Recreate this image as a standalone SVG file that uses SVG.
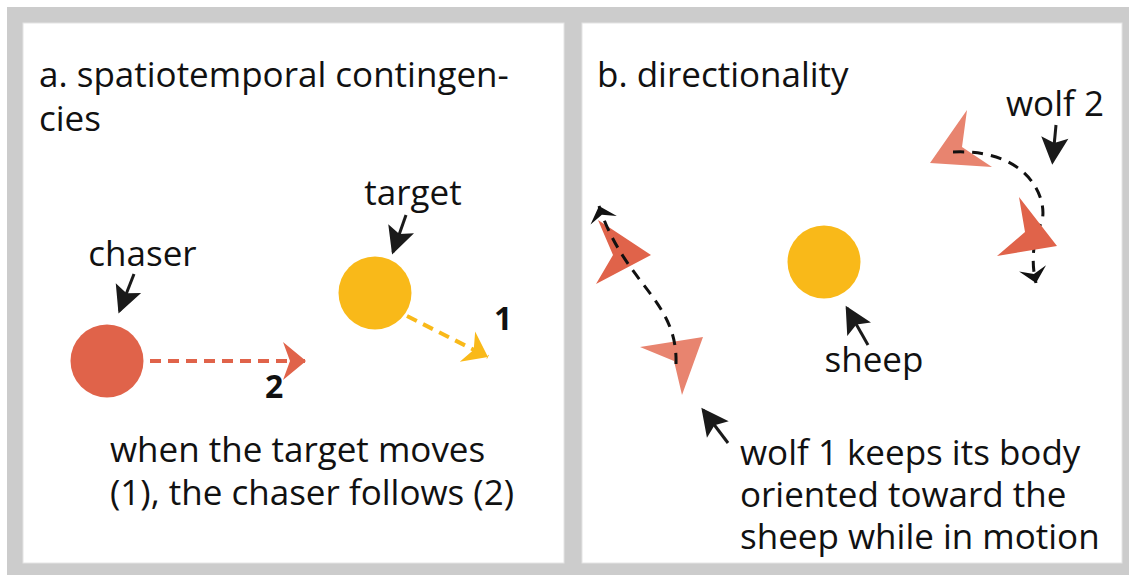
<svg xmlns="http://www.w3.org/2000/svg" width="1129" height="575" viewBox="0 0 1129 575">
<style>
text{font-family:"Open Sans","Noto Sans","Liberation Sans",sans-serif;font-size:35px;fill:#111;}
.num{font-weight:bold;font-size:32px;}
.lbl{stroke:#1a1a1a;stroke-width:3;fill:none;}
.dash-o{stroke:#e0634a;stroke-width:4;stroke-dasharray:11 7;fill:none;}
.dash-y{stroke:#f9b919;stroke-width:4;stroke-dasharray:11 7;fill:none;}
.dash-k{stroke:#111;stroke-width:3;stroke-dasharray:11 8;fill:none;}
.dark{fill:#e0634a;}
.light{fill:#e8846f;}
</style>
<defs>
<marker id="kh" markerUnits="userSpaceOnUse" markerWidth="30" markerHeight="30" refX="0" refY="0" viewBox="-20 -11 22 22" orient="auto" overflow="visible">
<path d="M2,0 L-18,-10 L-14,0 L-18,10 z" fill="#1a1a1a"/>
</marker>
<marker id="oh" markerUnits="userSpaceOnUse" markerWidth="30" markerHeight="40" viewBox="-25 -20 27 40" refX="0" refY="0" orient="auto" overflow="visible">
<path d="M0,0 L-23,-19 L-16,0 L-23,19 z" fill="#e0634a"/>
</marker>
<marker id="yh" markerUnits="userSpaceOnUse" markerWidth="30" markerHeight="40" viewBox="-25 -20 27 40" refX="0" refY="0" orient="auto" overflow="visible">
<path d="M0,0 L-23,-17 L-16,0 L-23,17 z" fill="#f9b919"/>
</marker>
<marker id="bh" markerUnits="userSpaceOnUse" markerWidth="30" markerHeight="30" viewBox="-15 -13 17 26" refX="0" refY="0" orient="auto" overflow="visible">
<path d="M0,0 L-13,-12 L-8,0 L-13,12 z" fill="#111"/>
</marker>
</defs>

<g id="frame">
<rect x="7" y="7" width="1122" height="568" fill="#cccccc"/>
<rect x="23" y="23" width="541" height="540" fill="#ffffff" stroke="#e4e4e4" stroke-width="1"/>
<rect x="582" y="23" width="540" height="540" fill="#ffffff" stroke="#e4e4e4" stroke-width="1"/>
</g>

<g id="panel-a-title">
<text x="39" y="87">a. spatiotemporal contingen-</text>
<text x="39" y="131">cies</text>
</g>
<g id="panel-b-title">
<text x="597" y="87">b. directionality</text>
</g>

<g id="chaser">
<circle cx="107" cy="361" r="36.5" fill="#e0634a"/>
<text x="142.5" y="266" text-anchor="middle">chaser</text>
</g>
<g id="target">
<circle cx="375" cy="293" r="36.5" fill="#f9b919"/>
<text x="413" y="205" text-anchor="middle">target</text>
</g>
<g id="caption-a">
<text x="110" y="462">when the target moves</text>
<text x="110" y="505">(1), the chaser follows (2)</text>
</g>

<g id="sheep">
<circle cx="824" cy="262" r="36.5" fill="#f9b919"/>
<text x="874" y="372" text-anchor="middle">sheep</text>
</g>

<g id="wolf1-pos2">
<polygon class="light" points="703,337 640,347 674,361 682,395"/>
</g>
<g id="wolf1-pos1">
<polygon class="dark" points="651,255 598,220 613,255 596,284"/>
</g>
<g id="wolf2-pos1">
<polygon class="light" points="930,163 967,110 962,147 992,167"/>
</g>

<g id="connectors">
<line class="lbl" x1="134" y1="274" x2="119.5" y2="311" marker-end="url(#kh)"/>
<line class="lbl" x1="406" y1="215" x2="393" y2="252" marker-end="url(#kh)"/>
<line class="lbl" x1="868" y1="345" x2="847" y2="308" marker-end="url(#kh)"/>
<line class="lbl" x1="1056" y1="125" x2="1052.5" y2="162" marker-end="url(#kh)"/>
<line class="lbl" x1="728" y1="443" x2="703" y2="410" marker-end="url(#kh)"/>
<line class="dash-o" x1="150" y1="361" x2="306" y2="361" marker-end="url(#oh)"/>
<path class="dash-y" d="M407,316 L488,357" marker-end="url(#yh)"/>
<path class="dash-k" d="M676,364 C678,300 625,285 599,206" marker-end="url(#bh)"/>
<path class="dash-k" d="M953,152 C1040,148 1052,215 1038,228 C1032,250 1032,266 1036,283" marker-end="url(#bh)"/>
<text class="num" x="494" y="330">1</text>
<text class="num" x="265" y="398">2</text>
</g>

<g id="wolf2-pos2">
<polygon class="dark" points="1057,246 1019,197 1025,232 997,256"/>
<text x="1006" y="116">wolf 2</text>
</g>

<g id="caption-b">
<text x="740" y="465">wolf 1 keeps its body</text>
<text x="740" y="507">oriented toward the</text>
<text x="740" y="549">sheep while in motion</text>
</g>
</svg>
